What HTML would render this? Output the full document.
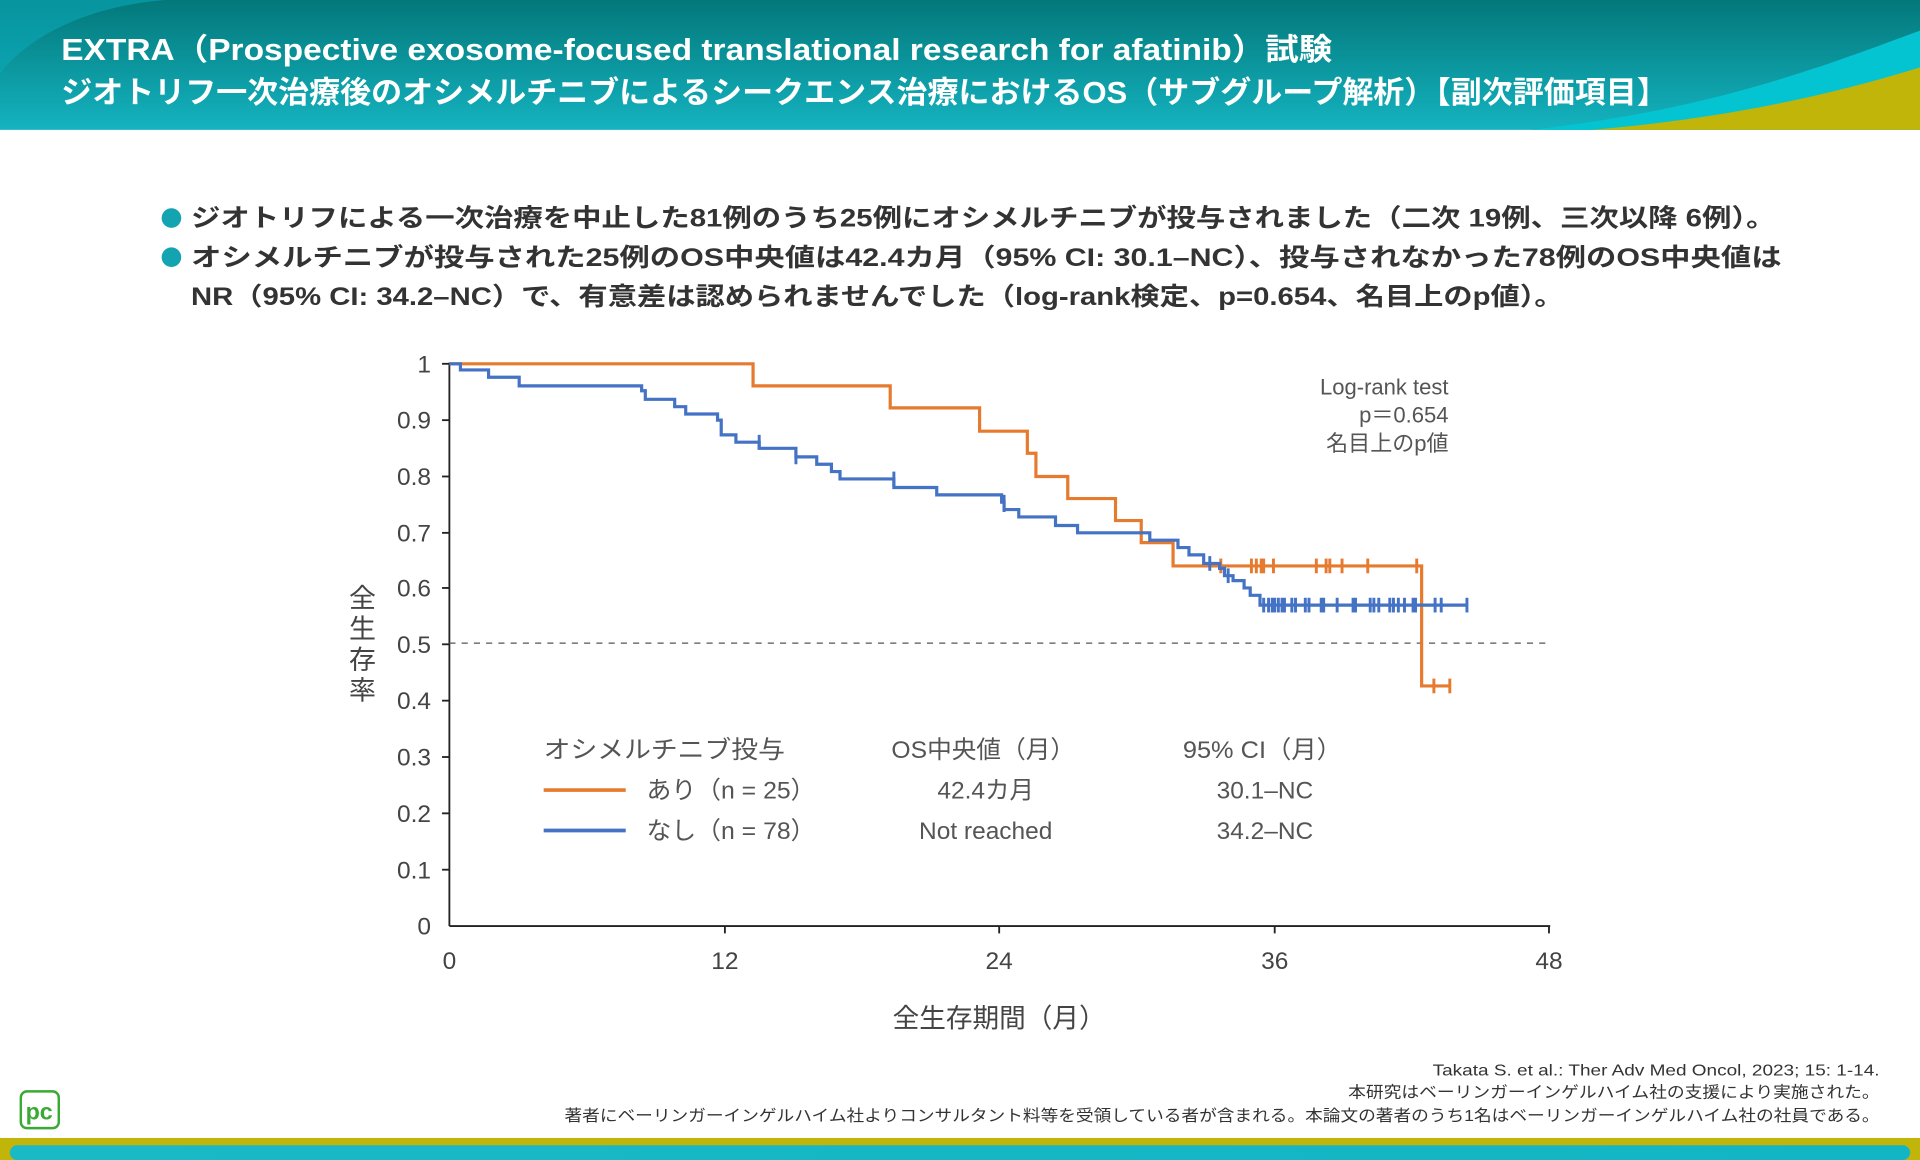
<!DOCTYPE html>
<html><head><meta charset="utf-8"><style>
html,body{margin:0;padding:0;background:#fff;}
svg{display:block;}
text{font-family:"Liberation Sans","Noto Sans CJK JP",sans-serif;}
</style></head><body>
<svg width="1920" height="1160" viewBox="0 0 1568 947" preserveAspectRatio="none" xmlns="http://www.w3.org/2000/svg">
<defs>
<linearGradient id="hg" x1="0" y1="0" x2="0" y2="1">
<stop offset="0" stop-color="#03787a"/><stop offset="1" stop-color="#14b3c0"/>
</linearGradient>
<linearGradient id="bb" x1="0" y1="0" x2="1" y2="0">
<stop offset="0" stop-color="#1ab9c6"/><stop offset="1" stop-color="#12b5c4"/>
</linearGradient>
</defs>
<rect x="0" y="0" width="1568" height="106" fill="url(#hg)"/>
<path d="M0,60 C40,10 120,-5 180,0 L0,0 Z" fill="#0aa9b8" opacity="0.6"/>
<path d="M1250,106 C1400,90 1500,50 1568,25 L1568,106 Z" fill="#05c4d2"/>
<path d="M1300,106 C1430,95 1520,70 1568,55 L1568,106 Z" fill="#c1b50a"/>
<text x="50" y="49" font-size="25" font-weight="bold" fill="#fff" textLength="1038" lengthAdjust="spacingAndGlyphs">EXTRA（Prospective exosome-focused translational research for afatinib）試験</text>
<text x="50" y="84" font-size="25" font-weight="bold" fill="#fff" textLength="1312" lengthAdjust="spacingAndGlyphs">ジオトリフ一次治療後のオシメルチニブによるシークエンス治療におけるOS（サブグループ解析）【副次評価項目】</text>
<circle cx="140" cy="178" r="8" fill="#14a3b0"/>
<circle cx="140" cy="210" r="8" fill="#14a3b0"/>
<text x="156" y="185" font-size="20.5" font-weight="bold" fill="#333" textLength="1294" lengthAdjust="spacingAndGlyphs">ジオトリフによる一次治療を中止した81例のうち25例にオシメルチニブが投与されました（二次 19例、三次以降 6例）。</text>
<text x="156" y="217" font-size="20.5" font-weight="bold" fill="#333" textLength="1299" lengthAdjust="spacingAndGlyphs">オシメルチニブが投与された25例のOS中央値は42.4カ月（95% CI: 30.1–NC）、投与されなかった78例のOS中央値は</text>
<text x="156" y="249" font-size="20.5" font-weight="bold" fill="#333" textLength="1121" lengthAdjust="spacingAndGlyphs">NR（95% CI: 34.2–NC）で、有意差は認められませんでした（log-rank検定、p=0.654、名目上のp値）。</text>
<g stroke="#222" stroke-width="1.5" fill="none">
<line x1="367" y1="296" x2="367" y2="756"/>
<line x1="367" y1="756" x2="1266" y2="756"/>
<line x1="361" y1="297" x2="367" y2="297"/><line x1="361" y1="343" x2="367" y2="343"/><line x1="361" y1="389" x2="367" y2="389"/><line x1="361" y1="435" x2="367" y2="435"/><line x1="361" y1="480" x2="367" y2="480"/><line x1="361" y1="526" x2="367" y2="526"/><line x1="361" y1="572" x2="367" y2="572"/><line x1="361" y1="618" x2="367" y2="618"/><line x1="361" y1="664" x2="367" y2="664"/><line x1="361" y1="710" x2="367" y2="710"/>
<line x1="592" y1="756" x2="592" y2="762"/><line x1="816" y1="756" x2="816" y2="762"/><line x1="1041" y1="756" x2="1041" y2="762"/><line x1="1265" y1="756" x2="1265" y2="762"/>
</g>
<line x1="367" y1="525" x2="1263" y2="525" stroke="#555" stroke-width="1" stroke-dasharray="5,5"/>
<g font-size="20" fill="#444" text-anchor="end">
<text x="352" y="304">1</text><text x="352" y="350">0.9</text><text x="352" y="396">0.8</text><text x="352" y="442">0.7</text><text x="352" y="487">0.6</text><text x="352" y="533">0.5</text><text x="352" y="579">0.4</text><text x="352" y="625">0.3</text><text x="352" y="671">0.2</text><text x="352" y="717">0.1</text><text x="352" y="763">0</text>
</g>
<g font-size="20" fill="#444" text-anchor="middle">
<text x="367" y="791">0</text><text x="592" y="791">12</text><text x="816" y="791">24</text><text x="1041" y="791">36</text><text x="1265" y="791">48</text>
</g>
<text x="729" y="839" font-size="22" fill="#444" textLength="174" lengthAdjust="spacingAndGlyphs">全生存期間（月）</text>
<g font-size="22" fill="#444" text-anchor="middle">
<text x="296" y="496">全</text><text x="296" y="521">生</text><text x="296" y="546">存</text><text x="296" y="571">率</text>
</g>
<polyline fill="none" stroke="#e67a2e" stroke-width="2.6" points="367,297 615,297 615,315 727,315 727,333 800,333 800,352 839,352 839,370 846,370 846,389 872,389 872,407 911,407 911,425 932,425 932,443 958,443 958,462 1161,462 1161,560 1183,560"/>
<g stroke="#e67a2e" stroke-width="2.4">
<line x1="997" y1="456" x2="997" y2="468"/><line x1="1022" y1="456" x2="1022" y2="468"/><line x1="1026" y1="456" x2="1026" y2="468"/><line x1="1030" y1="456" x2="1030" y2="468"/><line x1="1032" y1="456" x2="1032" y2="468"/><line x1="1040" y1="456" x2="1040" y2="468"/><line x1="1075" y1="456" x2="1075" y2="468"/><line x1="1083" y1="456" x2="1083" y2="468"/><line x1="1086" y1="456" x2="1086" y2="468"/><line x1="1096" y1="456" x2="1096" y2="468"/><line x1="1117" y1="456" x2="1117" y2="468"/><line x1="1157" y1="456" x2="1157" y2="468"/>
<line x1="1171" y1="554" x2="1171" y2="566"/><line x1="1184" y1="554" x2="1184" y2="566"/>
</g>
<polyline fill="none" stroke="#4472c4" stroke-width="2.6" points="367,297 376,297 376,302 399,302 399,308 424,308 424,315 524,315 524,319 527,319 527,326 551,326 551,332 560,332 560,338 586,338 586,343 589,343 589,355 601,355 601,361 620,361 620,366 650,366 650,373 667,373 667,379 679,379 679,385 686,385 686,391 730,391 730,398 765,398 765,404 818,404 818,410 820,410 820,416 832,416 832,422 862,422 862,429 880,429 880,435 939,435 939,441 962,441 962,447 971,447 971,453 983,453 983,460 996,460 996,464 1000,464 1000,470 1007,470 1007,474 1016,474 1016,480 1021,480 1021,486 1029,486 1029,494 1198,494"/>
<g stroke="#4472c4" stroke-width="2.4">
<line x1="620" y1="355" x2="620" y2="367"/><line x1="650" y1="367" x2="650" y2="379"/><line x1="730" y1="385" x2="730" y2="397"/><line x1="820" y1="404" x2="820" y2="418"/><line x1="988" y1="454" x2="988" y2="466"/><line x1="1003" y1="464" x2="1003" y2="476"/>
<line x1="1032" y1="488" x2="1032" y2="500"/><line x1="1036" y1="488" x2="1036" y2="500"/><line x1="1039" y1="488" x2="1039" y2="500"/><line x1="1041" y1="488" x2="1041" y2="500"/><line x1="1044" y1="488" x2="1044" y2="500"/><line x1="1047" y1="488" x2="1047" y2="500"/><line x1="1049" y1="488" x2="1049" y2="500"/><line x1="1055" y1="488" x2="1055" y2="500"/><line x1="1058" y1="488" x2="1058" y2="500"/><line x1="1066" y1="488" x2="1066" y2="500"/><line x1="1069" y1="488" x2="1069" y2="500"/><line x1="1079" y1="488" x2="1079" y2="500"/><line x1="1081" y1="488" x2="1081" y2="500"/><line x1="1092" y1="488" x2="1092" y2="500"/><line x1="1105" y1="488" x2="1105" y2="500"/><line x1="1107" y1="488" x2="1107" y2="500"/><line x1="1119" y1="488" x2="1119" y2="500"/><line x1="1122" y1="488" x2="1122" y2="500"/><line x1="1126" y1="488" x2="1126" y2="500"/><line x1="1135" y1="488" x2="1135" y2="500"/><line x1="1138" y1="488" x2="1138" y2="500"/><line x1="1142" y1="488" x2="1142" y2="500"/><line x1="1147" y1="488" x2="1147" y2="500"/><line x1="1154" y1="488" x2="1154" y2="500"/><line x1="1156" y1="488" x2="1156" y2="500"/><line x1="1172" y1="488" x2="1172" y2="500"/><line x1="1177" y1="488" x2="1177" y2="500"/><line x1="1198" y1="488" x2="1198" y2="500"/>
</g>
<g font-size="18" fill="#555" text-anchor="end">
<text x="1183" y="322">Log-rank test</text><text x="1183" y="345">p＝0.654</text><text x="1183" y="368">名目上のp値</text>
</g>
<g font-size="20" fill="#555">
<text x="444" y="619" textLength="197" lengthAdjust="spacingAndGlyphs">オシメルチニブ投与</text>
<text x="728" y="619" textLength="150" lengthAdjust="spacingAndGlyphs">OS中央値（月）</text>
<text x="966" y="619" textLength="130" lengthAdjust="spacingAndGlyphs">95% CI（月）</text>
<text x="528" y="652" textLength="138" lengthAdjust="spacingAndGlyphs">あり（n = 25）</text>
<text x="528" y="685" textLength="138" lengthAdjust="spacingAndGlyphs">なし（n = 78）</text>
<text x="805" y="652" text-anchor="middle">42.4カ月</text>
<text x="805" y="685" text-anchor="middle">Not reached</text>
<text x="1033" y="652" text-anchor="middle">30.1–NC</text>
<text x="1033" y="685" text-anchor="middle">34.2–NC</text>
</g>
<line x1="444" y1="645" x2="511" y2="645" stroke="#e67a2e" stroke-width="3"/>
<line x1="444" y1="678" x2="511" y2="678" stroke="#4472c4" stroke-width="3"/>
<g font-size="13" fill="#333">
<text x="1170" y="878" textLength="365" lengthAdjust="spacingAndGlyphs">Takata S. et al.: Ther Adv Med Oncol, 2023; 15: 1-14.</text>
<text x="1101" y="896" textLength="434" lengthAdjust="spacingAndGlyphs">本研究はベーリンガーインゲルハイム社の支援により実施された。</text>
<text x="461" y="915" textLength="1074" lengthAdjust="spacingAndGlyphs">著者にベーリンガーインゲルハイム社よりコンサルタント料等を受領している者が含まれる。本論文の著者のうち1名はベーリンガーインゲルハイム社の社員である。</text>
</g>
<rect x="17" y="891" width="31" height="30" rx="5" fill="#fff" stroke="#3aa935" stroke-width="2"/>
<text x="32" y="914" font-size="19" font-weight="bold" fill="#3aa935" text-anchor="middle">pc</text>
<rect x="0" y="929" width="1568" height="18" fill="#c1b50a"/>
<rect x="8" y="935" width="1552" height="12" rx="6" fill="url(#bb)"/>
</svg>
</body></html>
